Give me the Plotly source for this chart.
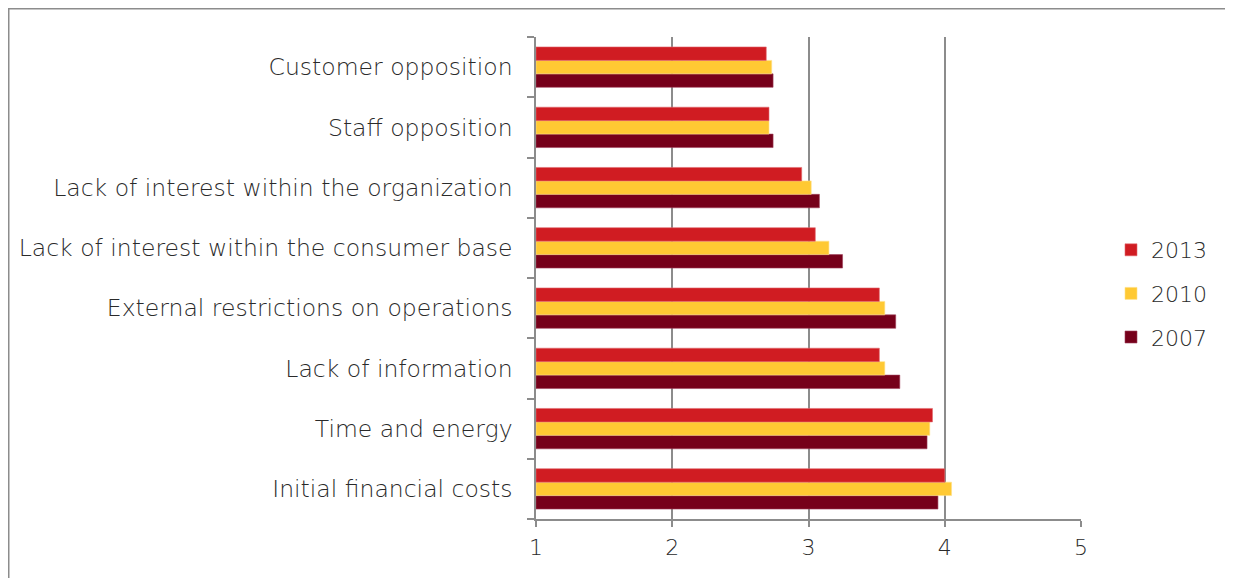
import plotly.graph_objects as go

categories = [
    "Initial financial costs",
    "Time and energy",
    "Lack of information",
    "External restrictions on operations",
    "Lack of interest within the consumer base",
    "Lack of interest within the organization",
    "Staff opposition",
    "Customer opposition",
]
v2013 = [4.00, 3.91, 3.52, 3.52, 3.05, 2.95, 2.71, 2.69]
v2010 = [4.05, 3.89, 3.56, 3.56, 3.15, 3.02, 2.71, 2.73]
v2007 = [3.95, 3.87, 3.67, 3.64, 3.25, 3.08, 2.74, 2.74]
x_ticks = [1, 2, 3, 4, 5]

series = [
    ("2007", v2007, "#76001A", "#A0405A", 3),
    ("2010", v2010, "#FFC933", "#FFE08A", 2),
    ("2013", v2013, "#D01C22", "#E06A6E", 1),
]

FONT = "DejaVu Sans"
fig = go.Figure()
for name, vals, col, lcol, rank in series:
    fig.add_trace(go.Bar(
        y=categories, x=[v - 1 for v in vals], base=1, name=name,
        orientation="h", marker=dict(color=col, line=dict(color=lcol, width=0.6)),
        legendgroup=name, legendrank=rank,
    ))

# page has an 8px body margin; work in figure coordinates
W, H = 1225, 570
L, R, T, B = 528, 1073, 29, 511
fig.update_layout(
    width=W, height=H,
    margin=dict(l=L, r=W - R, t=T, b=H - B, pad=0),
    paper_bgcolor="white", plot_bgcolor="white",
    barmode="group", bargap=0.33, bargroupgap=0,
    font=dict(family=FONT, size=22, color="#2a2a2a", weight=200),
    legend=dict(
        x=(1103 - L) / (R - L), y=(B - 221) / (B - T), xanchor="left", yanchor="top",
        traceorder="grouped", tracegroupgap=12,
        font=dict(size=22, family=FONT, color="#2a2a2a", weight=200),
        itemwidth=30,
    ),
    showlegend=True,
    xaxis=dict(
        range=[1, 5], tickvals=x_ticks, ticktext=[str(t) for t in x_ticks],
        showgrid=True, gridcolor="#8C8C8C", gridwidth=1.5,
        showline=True, linecolor="#8C8C8C", linewidth=1.5,
        ticks="outside", ticklen=6, tickcolor="#8C8C8C", tickwidth=1.5,
        zeroline=False, tickfont=dict(size=22), ticklabelstandoff=2,
    ),
    yaxis=dict(
        categoryorder="array", categoryarray=categories,
        showline=True, linecolor="#8C8C8C", linewidth=1.5,
        ticks="outside", ticklen=7, tickcolor="#8C8C8C", tickwidth=1.5,
        tickson="boundaries", showgrid=False, ticklabelstandoff=17,
        tickfont=dict(size=23.5),
    ),
    shapes=[dict(
        type="rect", xref="paper", yref="paper",
        x0=(0.75 - L) / (R - L), x1=(1300 - L) / (R - L),
        y0=(B - 700) / (B - T), y1=(B - 0.75) / (B - T),
        line=dict(color="#8C8C8C", width=1.5), fillcolor="rgba(0,0,0,0)", layer="below",
    )],
)
fig.write_html("out.html")
